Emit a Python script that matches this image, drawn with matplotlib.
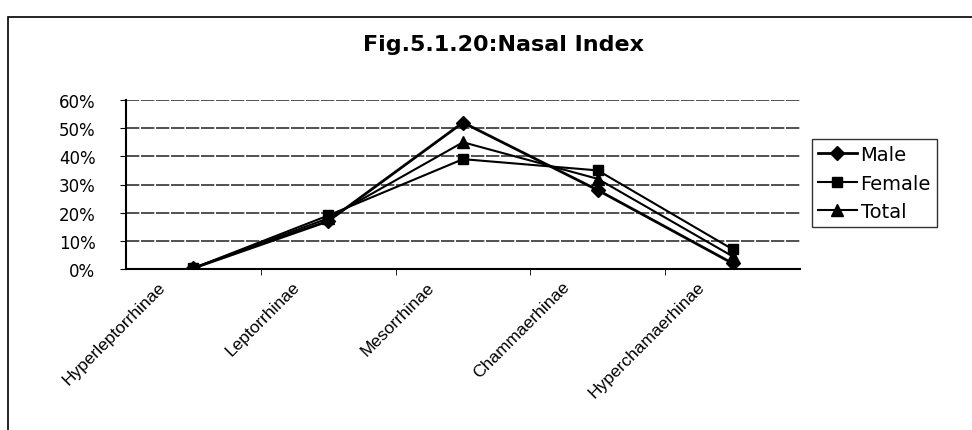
import matplotlib.pyplot as plt
import matplotlib.transforms as mtransforms
from matplotlib.patches import Rectangle

plt.rcParams['font.family'] = ['Liberation Sans', 'DejaVu Sans']

categories = ['Hyperleptorrhinae', 'Leptorrhinae', 'Mesorrhinae',
              'Chammaerhinae', 'Hyperchamaerhinae']
male = [0.003, 0.17, 0.52, 0.28, 0.02]
female = [0.003, 0.19, 0.39, 0.35, 0.07]
total = [0.003, 0.18, 0.45, 0.32, 0.045]
yticks = [0, 0.1, 0.2, 0.3, 0.4, 0.5, 0.6]
ylabels = ['0%', '10%', '20%', '30%', '40%', '50%', '60%']

fig = plt.figure(figsize=(9.72, 4.31), dpi=100)
# outer chart border
fig.patches.append(Rectangle((8 / 972, -0.01), 1.0, 1 - 18 / 431 + 0.01,
                             transform=fig.transFigure, fill=False,
                             edgecolor='black', linewidth=1.2))

ax = fig.add_axes([126 / 972, 1 - 270 / 431, (800 - 126) / 972, (270 - 101) / 431])
x = list(range(len(categories)))

ax.plot(x, male, color='black', lw=2.0, marker='D', ms=7, label='Male')
ax.plot(x, female, color='black', lw=1.5, marker='s', ms=7, label='Female')
ax.plot(x, total, color='black', lw=1.5, marker='^', ms=8, label='Total')

ax.set_xlim(-0.5, len(categories) - 0.5)
ax.set_ylim(0, 0.6)
ax.set_yticks(yticks)
ax.set_yticklabels(ylabels, fontsize=12, family='DejaVu Sans')
ax.yaxis.grid(True, color='#333333', lw=1.2, linestyle=(0, (8, 1)))
ax.set_axisbelow(True)

ax.set_xticks(x)
ax.set_xticklabels(categories, rotation=45, ha='right', rotation_mode='anchor',
                   fontsize=12.5)
ax.tick_params(axis='x', length=0, pad=7)
ax.set_xticks([i + 0.5 for i in x[:-1]], minor=True)
ax.tick_params(axis='x', which='minor', length=4)
offset = mtransforms.ScaledTranslation(-36 / 100, 0, fig.dpi_scale_trans)
for lab in ax.get_xticklabels():
    lab.set_transform(lab.get_transform() + offset)

for s in ['top', 'right']:
    ax.spines[s].set_visible(False)
ax.spines['left'].set_linewidth(1.5)
ax.spines['bottom'].set_linewidth(1.5)
ax.tick_params(axis='y', length=4, pad=18)

fig.text(503 / 972, 1 - 45 / 431, 'Fig.5.1.20:Nasal Index', ha='center',
         va='center', fontsize=16, fontweight='bold', family='DejaVu Sans')

leg = fig.legend(loc='upper left', bbox_to_anchor=(812 / 972, 1 - 140 / 431),
                 frameon=True, fancybox=False, edgecolor='black',
                 prop={'family': 'DejaVu Sans', 'size': 14},
                 handlelength=2.0, borderaxespad=0, labelspacing=0.5,
                 handletextpad=0.2, borderpad=0.3)
leg.get_frame().set_linewidth(1.0)

fig.savefig('out.png', dpi=100)
